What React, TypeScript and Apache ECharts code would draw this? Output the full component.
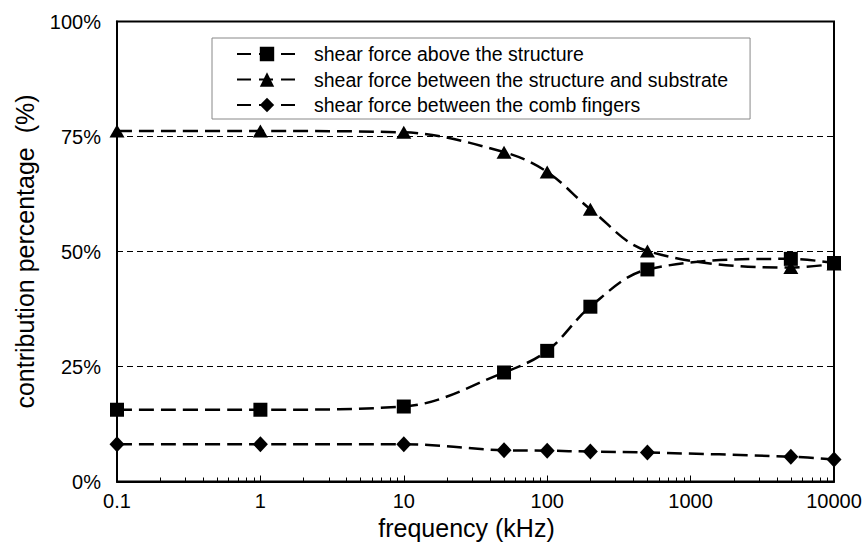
import React, { useEffect, useRef } from "react";
import * as echarts from "echarts";

const frequencies = [0.1, 1, 10, 50, 100, 200, 500, 5000, 10000];
const aboveStructure = [15.6, 15.6, 16.3, 23.7, 28.4, 38.0, 46.1, 48.4, 47.5];
const betweenSubstrate = [76.2, 76.2, 75.9, 71.6, 67.3, 59.2, 50.1, 46.5, 47.3];
const combFingers = [8.1, 8.1, 8.1, 6.8, 6.7, 6.5, 6.3, 5.4, 4.8];

const seriesNames = [
  "shear force above the structure",
  "shear force between the structure and substrate",
  "shear force between the comb fingers",
];
const yTicks = [0, 25, 50, 75, 100];

const FONT = "'Liberation Sans', Arial, sans-serif";

export default function App() {
  const ref = useRef<HTMLDivElement>(null);
  useEffect(() => {
    if (!ref.current) return;
    const chart = echarts.init(ref.current, undefined, { renderer: "svg" });
    const pair = (vals: number[]) => frequencies.map((f, i) => [f, vals[i]]);
    const lineStyle = { color: "#000", width: 2.5, type: [15, 7] as number[] };
    const mk = (name: string, vals: number[], symbol: string, size: any) => ({
      name,
      type: "line",
      data: pair(vals),
      smooth: 0.35,
      symbol,
      symbolSize: size,
      showSymbol: true,
      lineStyle,
      itemStyle: { color: "#000" },
      emphasis: { disabled: true },
      z: 3,
    });
    chart.setOption({
      animation: false,
      backgroundColor: "#fff",
      textStyle: { fontFamily: FONT, color: "#000" },
      grid: {
        left: 117,
        right: 31,
        top: 21.5,
        bottom: 63.5,
        show: true,
        borderColor: "#000",
        borderWidth: 2,
        containLabel: false,
        outerBoundsMode: "none",
      },
      legend: {
        orient: "vertical",
        left: 212,
        top: 38,
        padding: [6, 22, 4, 24],
        itemGap: 5.5,
        itemWidth: 60,
        itemHeight: 18,
        backgroundColor: "#fff",
        borderColor: "#888",
        borderWidth: 1,
        borderRadius: 0,
        selectedMode: false,
        textStyle: {
          fontSize: 19.5,
          fontFamily: FONT,
          color: "#000",
          padding: [0, 0, 0, 12],
        },
        lineStyle: { type: [14, 8] },
        data: seriesNames,
      },
      xAxis: {
        type: "log",
        logBase: 10,
        min: 0.1,
        max: 10000,
        name: "frequency (kHz)",
        nameLocation: "middle",
        nameGap: 25,
        nameTextStyle: { fontSize: 25, fontFamily: FONT, color: "#000", padding: [0, 18, 0, 0] },
        axisLine: { show: true, lineStyle: { color: "#000", width: 2 } },
        axisTick: { show: true, inside: true, length: 6, lineStyle: { color: "#000", width: 1 } },
        minorTick: { show: true, splitNumber: 9, length: 4, lineStyle: { color: "#000", width: 1 } },
        axisLabel: {
          fontSize: 20,
          fontFamily: FONT,
          color: "#000",
          margin: 9,
          formatter: (v: number) => String(v),
        },
        splitLine: { show: false },
      },
      yAxis: {
        type: "value",
        min: yTicks[0],
        max: yTicks[yTicks.length - 1],
        interval: 25,
        name: "contribution percentage  (%)",
        nameLocation: "middle",
        nameGap: 80,
        nameRotate: 90,
        nameTextStyle: { fontSize: 25, fontFamily: FONT, color: "#000" },
        axisLine: { show: true, lineStyle: { color: "#000", width: 2 } },
        axisTick: { show: false },
        axisLabel: {
          fontSize: 20,
          fontFamily: FONT,
          color: "#000",
          margin: 16,
          formatter: "{value}%",
        },
        splitLine: { show: true, lineStyle: { color: "#000", width: 1, type: [6, 4] } },
      },
      series: [
        mk(seriesNames[0], aboveStructure, "rect", 14),
        mk(seriesNames[1], betweenSubstrate, "triangle", [15, 13]),
        mk(seriesNames[2], combFingers, "diamond", [15, 16]),
      ],
    });
    return () => chart.dispose();
  }, []);
  return <div ref={ref} style={{ width: 865, height: 545, position: "absolute", left: 0, top: 0 }} />;
}
